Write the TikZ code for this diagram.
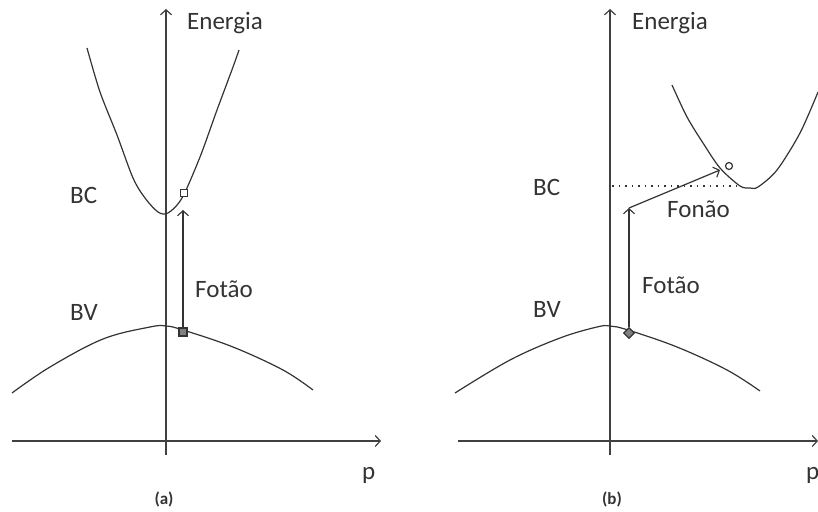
\documentclass[tikz,border=0pt]{standalone}
\usepackage{fontspec}
\setmainfont{Carlito}
\usetikzlibrary{arrows.meta,shapes.geometric}
\begin{document}
\begin{tikzpicture}[x=1pt,y=-1pt,
 axis/.style={line width=1.6pt, draw=black!75, -{Straight Barb[length=5pt,width=11pt,line width=1.2pt]}},
 band/.style={line width=1.2pt, draw=black!80},
 trans/.style={line width=1.2pt, draw=black!80, -{Straight Barb[length=5pt,width=11pt,line width=1.1pt]}},
 lbl/.style={font=\fontsize{25}{30}\selectfont, text=black!80, inner sep=0pt},
 panelcap/.style={font=\bfseries\fontsize{17}{20}\selectfont, text=black!80, inner sep=0pt},
 openmark/.style={draw=black!80, fill=white, line width=1.2pt, inner sep=0pt, minimum size=7pt},
 fullmark/.style={draw=black!80, fill=black!50, line width=1.2pt, inner sep=0pt, minimum size=8pt},
]
\useasboundingbox (0,0) rectangle (818,511);

% ---------------- panel (a) ----------------
\coordinate (a-ybot) at (166,455);
\coordinate (a-ytop) at (166,9);
\coordinate (a-xl) at (12,441);
\coordinate (a-xr) at (381,441);
\draw[axis] (a-ybot) -- (a-ytop);
\draw[axis] (a-xl) -- (a-xr);

\node[lbl, anchor=base west] (a-en) at (187,30) {Energia};
\node[lbl, anchor=base west] (a-p) at (362,479) {p};
\node[panelcap] (a-cap) at (164,499) {(a)};
\node[lbl, anchor=base west] (a-bc) at (70,203) {BC};
\node[lbl, anchor=base west] (a-bv) at (70,320) {BV};
\node[lbl, anchor=base west] (a-fot) at (195,297) {Fotão};

% conduction band (a)
\draw[band] plot[smooth, tension=0.5] coordinates {(87,48) (100,92) (117,135) (133,178) (145,198) (158,212) (168,213) (182,198) (200,157) (217,110) (233,67) (239,50)};
% valence band (a)
\draw[band] plot[smooth, tension=0.6] coordinates {(12,393) (50,367) (103,339) (150,327) (166,326) (183,330) (233,347) (283,370) (313,390)};

\node[openmark, rectangle] (a-top) at (184,193) {};
\node[fullmark, rectangle] (a-bot) at (183,332) {};
\coordinate (a-ph) at (183,210);
\draw[trans] (a-bot.north) -- (a-ph);

% ---------------- panel (b) ----------------
\coordinate (b-ybot) at (610,455);
\coordinate (b-ytop) at (610,9);
\coordinate (b-xl) at (458,441);
\coordinate (b-xr) at (818,441);
\draw[axis] (b-ybot) -- (b-ytop);
\draw[axis] (b-xl) -- (b-xr);

\node[lbl, anchor=base west] (b-en) at (632,30) {Energia};
\node[lbl, anchor=base west] (b-p) at (806,479) {p};
\node[panelcap] (b-cap) at (612,499) {(b)};
\node[lbl, anchor=base west] (b-bc) at (533,195) {BC};
\node[lbl, anchor=base west] (b-bv) at (533,317) {BV};
\node[lbl, anchor=base west] (b-fot) at (642,293) {Fotão};
\node[lbl, anchor=base west] (b-fon) at (667,217) {Fonão};

% conduction band (b)
\draw[band] plot[smooth, tension=0.5] coordinates {(672,85) (687,117) (703,143) (720,168) (740,186) (750,188) (758,187) (777,170) (800,133) (818,92)};
% valence band (b)
\draw[band] plot[smooth, tension=0.6] coordinates {(455,393) (510,360) (560,338) (597,327) (610,326) (628,330) (677,347) (727,370) (760,391)};

% dotted level
\coordinate (b-dl) at (612,186);
\coordinate (b-dr) at (737,186);
\draw[black!80, line width=1.2pt, dash pattern=on 1.5pt off 5pt] (b-dl) -- (b-dr);

\node[openmark, circle, minimum size=7pt] (b-top) at (729,166) {};
\node[fullmark, diamond, minimum size=11pt] (b-bot) at (629,333) {};
\coordinate (b-ph) at (629,208);
\coordinate (b-fn) at (720,170);
\draw[trans] (b-bot.north) -- (b-ph);
\draw[trans] (b-ph) -- (b-fn);
\end{tikzpicture}
\end{document}
